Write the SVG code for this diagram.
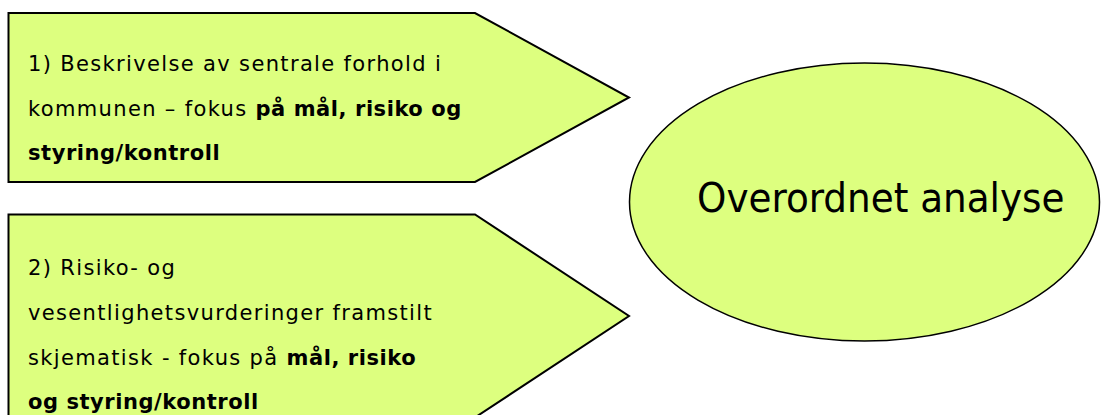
<svg xmlns="http://www.w3.org/2000/svg" width="1101" height="415" viewBox="0 0 1101 415">
<style>
.shape{fill:#DDFF7F;stroke:#000;stroke-width:2;stroke-linejoin:miter}
.ell{fill:#DDFF7F;stroke:#000;stroke-width:1.5}
.t{font-family:"DejaVu Sans",sans-serif;font-size:21px;letter-spacing:1.35px;fill:#000}
.b{font-weight:bold;letter-spacing:0.55px}
.big{font-family:"DejaVu Sans Condensed","DejaVu Sans",sans-serif;font-size:41.5px;fill:#000}
</style>
<rect width="1101" height="415" fill="#fff"/>
<g id="connectors"></g>
<g id="node1">
<polygon class="shape" points="8.5,13 475,13 629,97.5 475,182 8.5,182"/>
<text class="t" x="28" y="71">1) Beskrivelse av sentrale forhold i</text>
<text class="t" x="28" y="115.5">kommunen – fokus <tspan class="b">på mål, risiko og</tspan></text>
<text class="t b" x="28" y="160">styring/kontroll</text>
</g>
<g id="node2">
<polygon class="shape" points="8.5,214.5 475,214.5 629,316 475,417.5 8.5,417.5"/>
<text class="t" x="28" y="275">2) Risiko- og</text>
<text class="t" x="28" y="319.5">vesentlighetsvurderinger framstilt</text>
<text class="t" x="28" y="364.5">skjematisk - fokus på <tspan class="b">mål, risiko</tspan></text>
<text class="t b" x="28" y="409">og styring/kontroll</text>
</g>
<g id="node3">
<ellipse class="ell" cx="864.5" cy="202" rx="235" ry="139"/>
<text class="big" x="697" y="212">Overordnet analyse</text>
</g>
</svg>
